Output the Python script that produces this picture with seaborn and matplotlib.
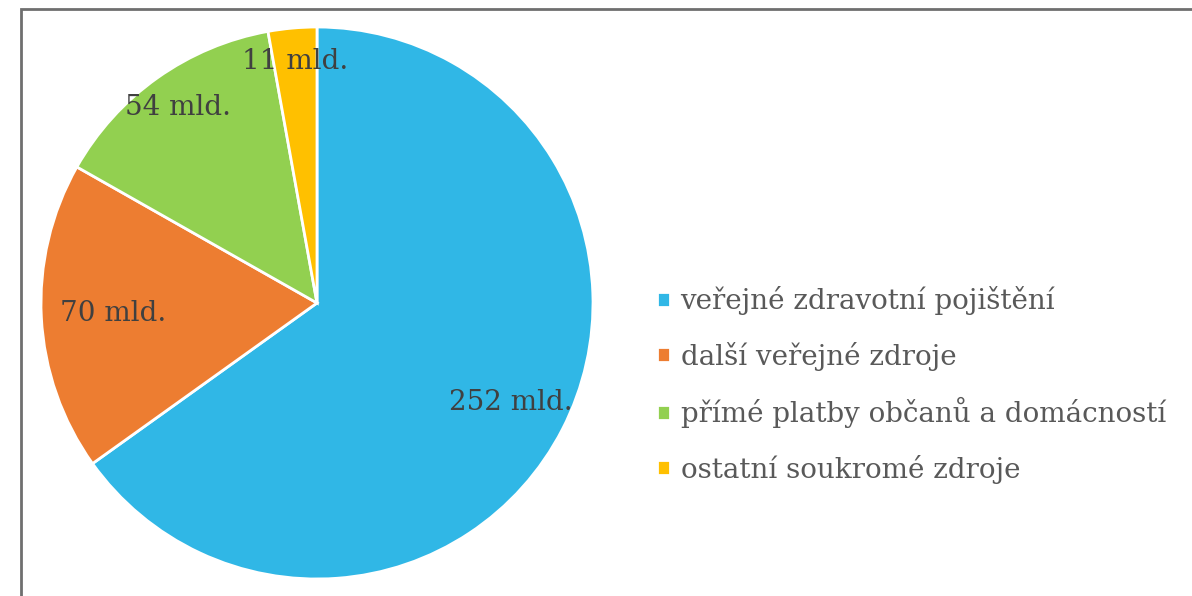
import numpy as np
import matplotlib
matplotlib.use("Agg")
import matplotlib.pyplot as plt
import seaborn as sns
from matplotlib.patches import Rectangle

sns.set_theme(style="white")
plt.rcParams["font.family"] = ["DejaVu Serif", "DejaVu Sans"]

# Data
categories = ["veřejné zdravotní pojištění", "další veřejné zdroje",
              "přímé platby občanů a domácností", "ostatní soukromé zdroje"]
values = [252, 70, 54, 11]
labels = ["252 mld.", "70 mld.", "54 mld.", "11 mld."]
colors = ["#30B7E6", "#ED7D31", "#92D050", "#FFC000"]
label_radius = [0.79, 0.74, 0.87, 0.88]

fig = plt.figure(figsize=(11.92, 5.96), dpi=100)
fig.patch.set_facecolor("white")

# outer frame (only left/top visible)
fig.add_artist(Rectangle((21 / 1192, -0.05), 1.1, (596 - 9) / 596 + 0.05,
                         transform=fig.transFigure, fill=False,
                         edgecolor="#6f6f6f", linewidth=2))

ax = fig.add_axes([41 / 1192, 17 / 596, 552 / 1192, 552 / 596])
wedges, _ = ax.pie(values, colors=colors, startangle=90, counterclock=False,
                   wedgeprops=dict(edgecolor="white", linewidth=2))
ax.set_xlim(-1, 1)
ax.set_ylim(-1, 1)
ax.set_aspect("equal")
ax.axis("off")

for w, lab, r in zip(wedges, labels, label_radius):
    ang = np.deg2rad((w.theta1 + w.theta2) / 2)
    ax.text(r * np.cos(ang), r * np.sin(ang), lab, ha="center", va="center",
            fontsize=20, color="#404040")

fig.legend(wedges, categories, loc="center left",
           bbox_to_anchor=(632 / 1192, (596 - 385) / 596),
           frameon=False, fontsize=20, labelcolor="#595959",
           handlelength=0.45, handleheight=0.45, handletextpad=0.4,
           labelspacing=0.95)

plt.savefig("out.png", dpi=100, facecolor="white")
